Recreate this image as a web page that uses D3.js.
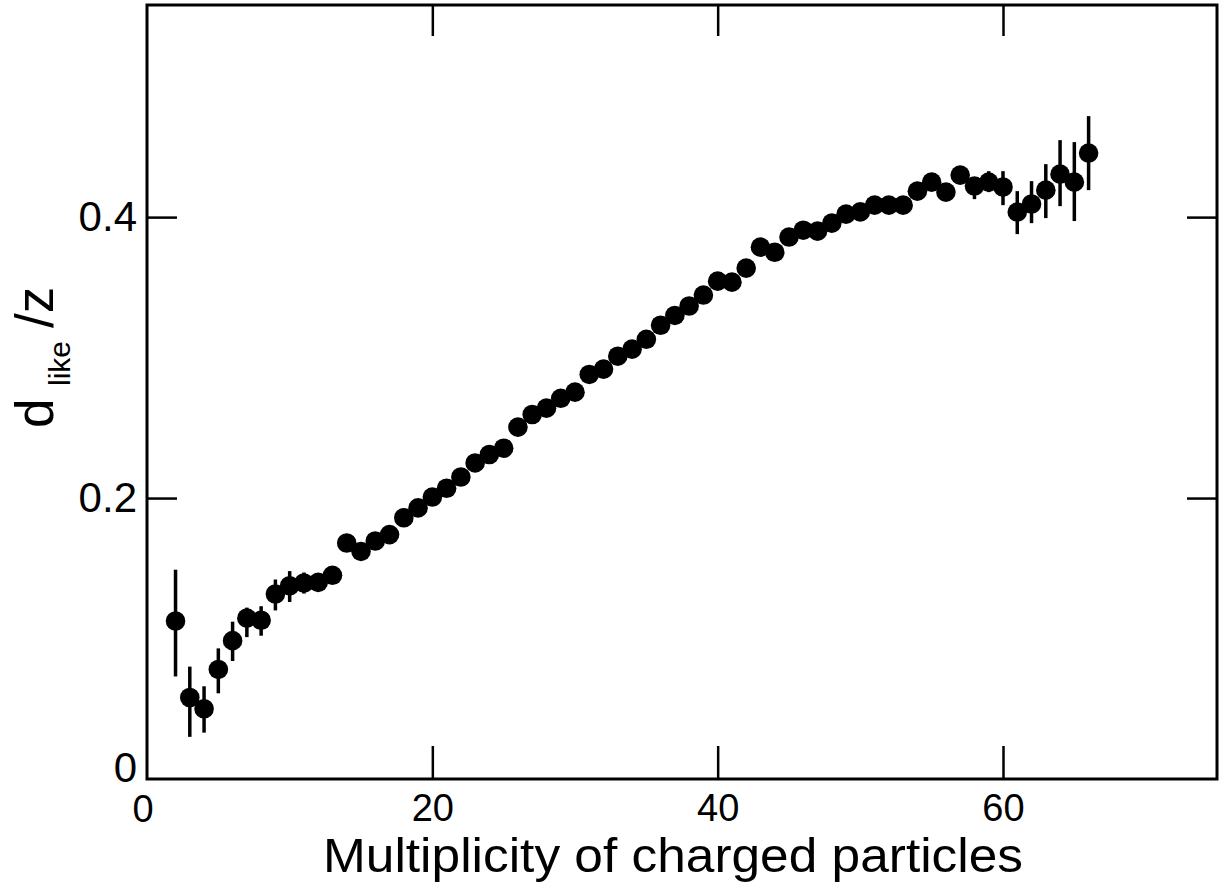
<!DOCTYPE html>
<html><head><meta charset="utf-8">
<script src="https://cdn.jsdelivr.net/npm/d3@7"></script>
<style>body{margin:0;background:#fff}svg{display:block}</style>
</head><body>
<svg id="chart" width="1221" height="891"></svg>
<script>
// ---- data ----
const multiplicity = [2,3,4,5,6,7,8,9,10,11,12,13,14,15,16,17,18,19,20,21,22,23,24,25,26,27,28,29,30,31,32,33,34,35,36,37,38,39,40,41,42,43,44,45,46,47,48,49,50,51,52,53,54,55,56,57,58,59,60,61,62,63,64,65,66];
const dLikeOverZ = [0.1125,0.058,0.050,0.078,0.0985,0.1145,0.113,0.1317,0.1376,0.1395,0.140,0.145,0.168,0.162,0.1694,0.174,0.186,0.193,0.2007,0.207,0.215,0.225,0.231,0.2355,0.2505,0.2595,0.264,0.271,0.2754,0.288,0.2918,0.301,0.306,0.313,0.323,0.330,0.3367,0.3445,0.3544,0.3537,0.3637,0.3786,0.375,0.3858,0.3907,0.390,0.3957,0.4021,0.4037,0.4085,0.4085,0.4085,0.4185,0.4249,0.4178,0.4299,0.4221,0.4249,0.4214,0.4036,0.4093,0.4192,0.4306,0.4249,0.4456];
const errDown = [0.0395,0.028,0.017,0.017,0.0145,0.0135,0.011,0.0117,0.0116,0.0075,0.006,0.006,0.005,0.005,0.005,0.005,0.005,0.005,0.005,0.005,0.005,0.005,0.005,0.005,0.005,0.005,0.005,0.005,0.005,0.005,0.005,0.005,0.005,0.005,0.005,0.005,0.005,0.005,0.005,0.005,0.005,0.005,0.005,0.005,0.005,0.005,0.005,0.005,0.005,0.005,0.005,0.005,0.005,0.005,0.006,0.005,0.0093,0.0071,0.0129,0.0157,0.0136,0.0199,0.0228,0.0277,0.0264];
const errUp = [0.0365,0.022,0.016,0.015,0.0135,0.0075,0.010,0.0103,0.0104,0.0075,0.006,0.006,0.005,0.005,0.005,0.005,0.005,0.005,0.005,0.005,0.005,0.005,0.005,0.005,0.005,0.005,0.005,0.005,0.005,0.005,0.005,0.005,0.005,0.005,0.005,0.005,0.005,0.005,0.005,0.005,0.005,0.005,0.005,0.005,0.005,0.005,0.005,0.005,0.005,0.005,0.005,0.005,0.005,0.005,0.005,0.005,0.0057,0.0078,0.0113,0.0149,0.0163,0.0185,0.0242,0.0285,0.0263];
const xTickValues = [0,20,40,60];
const yTickValues = [0,0.2,0.4];
const xTickLabels = ["0","20","40","60"];
const yTickLabels = ["0","0.2","0.4"];
const xTitle = "Multiplicity of charged particles";
const yTitleMain = "d", yTitleSub = "like", yTitleRest = "/z";

// ---- layout ----
const FONT = "'Liberation Sans', Arial, sans-serif";
const L = 147, R = 1217, T = 5, B = 779;
const svg = d3.select("#chart");
const x = d3.scaleLinear().domain([0, 75]).range([L, R]);
const y = d3.scaleLinear().domain([0, 0.551]).range([B, T]);

function styleAxis(g, fs) {
  g.select(".domain").remove();
  g.selectAll(".tick line").attr("stroke", "#000").attr("stroke-width", 2.5);
  g.selectAll(".tick text").attr("fill", "#000").attr("font-family", FONT).attr("font-size", fs);
}

// bottom axis (ticks inward, labels)
const gx = svg.append("g").attr("transform", `translate(0,${B})`)
  .call(d3.axisBottom(x).tickValues(xTickValues.slice(1)).tickSize(-33).tickPadding(15)
    .tickFormat(d => xTickLabels[xTickValues.indexOf(d)]));
styleAxis(gx, 38);
// zero label on x without tick line
svg.append("text").attr("x", x(0) - 4).attr("y", B + 43).attr("text-anchor", "middle")
  .attr("font-family", FONT).attr("font-size", 38).text(xTickLabels[0]);

// top axis (ticks only)
const gxt = svg.append("g").attr("transform", `translate(0,${T})`)
  .call(d3.axisTop(x).tickValues(xTickValues.slice(1)).tickSize(-31).tickFormat(""));
styleAxis(gxt, 0);

// left axis
const gy = svg.append("g").attr("transform", `translate(${L},0)`)
  .call(d3.axisLeft(y).tickValues(yTickValues).tickSize(-30).tickPadding(10)
    .tickFormat(d => yTickLabels[yTickValues.indexOf(d)]));
styleAxis(gy, 42);
gy.selectAll(".tick").filter(d => d === 0).select("line").remove();
gy.selectAll(".tick").filter(d => d === 0).select("text").attr("dy", "0.05em");

// right axis
const gyr = svg.append("g").attr("transform", `translate(${R},0)`)
  .call(d3.axisRight(y).tickValues(yTickValues.slice(1)).tickSize(-30).tickFormat(""));
styleAxis(gyr, 0);

// frame
svg.append("rect").attr("x", L).attr("y", T).attr("width", R - L).attr("height", B - T)
  .attr("fill", "none").attr("stroke", "#000").attr("stroke-width", 3);

// data
const pts = multiplicity.map((m, i) => ({m, v: dLikeOverZ[i], lo: dLikeOverZ[i] - errDown[i], hi: dLikeOverZ[i] + errUp[i]}));
svg.append("g").selectAll("line").data(pts).join("line")
  .attr("x1", d => x(d.m)).attr("x2", d => x(d.m))
  .attr("y1", d => y(d.lo)).attr("y2", d => y(d.hi))
  .attr("stroke", "#000").attr("stroke-width", 3.5);
svg.append("g").selectAll("circle").data(pts).join("circle")
  .attr("cx", d => x(d.m)).attr("cy", d => y(d.v)).attr("r", 9.8).attr("fill", "#000");

// titles
svg.append("text").attr("x", 323).attr("y", 872)
  .attr("font-family", FONT).attr("font-size", 49)
  .attr("textLength", 700).attr("lengthAdjust", "spacingAndGlyphs").text(xTitle);

const yt = svg.append("text").attr("transform", "rotate(-90)")
  .attr("font-family", FONT).attr("fill", "#000");
yt.append("tspan").attr("x", -428).attr("y", 53).attr("font-size", 53).text(yTitleMain);
yt.append("tspan").attr("x", -386).attr("y", 70).attr("font-size", 30).text(yTitleSub);
yt.append("tspan").attr("x", -328).attr("y", 53).attr("font-size", 53).text(yTitleRest);
</script>
</body></html>
